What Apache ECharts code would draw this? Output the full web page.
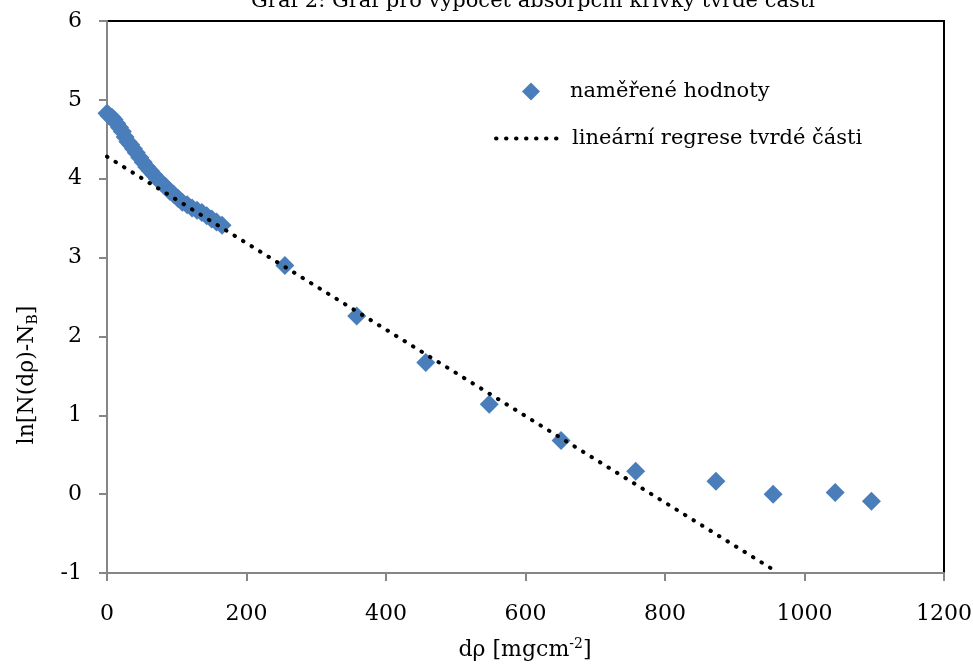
<!DOCTYPE html>
<html><head><meta charset="utf-8">
<script src="https://cdn.jsdelivr.net/npm/echarts@6/dist/echarts.min.js"></script>
<style>html,body{margin:0;padding:0;background:#fff}#c{width:973px;height:664px}</style>
</head><body><div id="c"></div>
<script>
const FONT = "DejaVu Serif";
// measured data
const measX = [0, 3, 7, 10, 14, 18, 22, 26, 30, 34, 38, 42, 47, 52, 57, 62, 67, 72, 78, 84, 90, 96, 102, 108, 115, 122, 129, 136, 143, 150, 157, 165,
  255, 358, 457, 548, 651, 758, 873, 955, 1044, 1096];
const measY = [4.83, 4.80, 4.78, 4.75, 4.70, 4.65, 4.60, 4.53, 4.47, 4.43, 4.38, 4.33, 4.27, 4.21, 4.15, 4.10, 4.05, 4.00, 3.95, 3.90, 3.84, 3.80, 3.75, 3.70, 3.67, 3.63, 3.60, 3.57, 3.53, 3.49, 3.45, 3.41,
  2.90, 2.26, 1.67, 1.14, 0.68, 0.29, 0.165, 0.0, 0.02, -0.09];
// regression of the hard part (end points)
const regX = [0, 952];
const regY = [4.28, -0.94];
// ticks
const xTicks = {min: 0, max: 1200, interval: 200};
const yTicks = {min: -1, max: 6, interval: 1};
const softCount = 32;

const measData = measX.map((x, i) => [x, measY[i]]);
const softData = measData.slice(0, softCount);
const regData = regX.map((x, i) => [x, regY[i]]);

const chart = echarts.init(document.getElementById('c'));
const dotted = {color: '#000', width: 4, type: [0.5, 9.5], cap: 'round'};
chart.setOption({
  animation: false,
  textStyle: {fontFamily: FONT},
  title: {
    text: 'Graf 2: Graf pro výpočet absorpční křivky tvrdé části',
    left: 528, top: -14, textAlign: 'center',
    textStyle: {fontFamily: FONT, fontSize: 21, fontWeight: 'normal', color: '#000'}
  },
  grid: {left: 107, right: 29, top: 21, bottom: 91, show: true, borderColor: '#000', borderWidth: 2, backgroundColor: '#fff',
    outerBoundsMode: 'none', containLabel: false},
  legend: [
    {data: ['naměřené hodnoty'], left: 517, top: 76, itemWidth: 18, itemHeight: 18, icon: 'diamond',
     textStyle: {fontFamily: FONT, fontSize: 21, color: '#000', padding: [0, 0, 0, 25]}},
    {data: ['lineární regrese tvrdé části'], left: 489, top: 123, itemWidth: 68, itemHeight: 14,
     itemStyle: {opacity: 0},
     lineStyle: {color: '#000', width: 4, type: [0.5, 9.5], cap: 'round'},
     textStyle: {fontFamily: FONT, fontSize: 21, color: '#000', padding: [0, 0, 0, 3]}}
  ],
  xAxis: {
    type: 'value', min: xTicks.min, max: xTicks.max, interval: xTicks.interval,
    splitLine: {show: false},
    axisLine: {show: true, onZero: false, lineStyle: {color: '#868686', width: 2}},
    axisTick: {show: true, length: 8, lineStyle: {color: '#868686', width: 2}},
    axisLabel: {margin: 30, fontFamily: FONT, fontSize: 22, color: '#000', formatter: v => String(v)}
  },
  yAxis: {
    type: 'value', min: yTicks.min, max: yTicks.max, interval: yTicks.interval,
    splitLine: {show: false},
    axisLine: {show: true, onZero: false, lineStyle: {color: '#868686', width: 2}},
    axisTick: {show: true, length: 8, lineStyle: {color: '#868686', width: 2}},
    axisLabel: {margin: 25, fontFamily: FONT, fontSize: 22, color: '#000', formatter: v => String(v)}
  },
  graphic: [
    {type: 'text', x: 27, y: 375, rotation: Math.PI / 2,
     style: {text: 'ln[N(dρ)-N{sub|B}]', fontFamily: FONT, fontSize: 22, fill: '#000', align: 'center', verticalAlign: 'middle',
       rich: {sub: {fontFamily: FONT, fontSize: 14, padding: [12, 0, 0, 0]}}}},
    {type: 'text', x: 525, y: 650,
     style: {text: 'dρ [mgcm{sup|-2}]', fontFamily: FONT, fontSize: 22, fill: '#000', align: 'center', verticalAlign: 'middle',
       rich: {sup: {fontFamily: FONT, fontSize: 14, padding: [0, 0, 12, 0]}}}}
  ],
  series: [
    {name: 'soft', type: 'line', data: softData, symbol: 'none', lineStyle: dotted, z: 1, silent: true},
    {name: 'lineární regrese tvrdé části', type: 'line', data: regData, symbol: 'none', showSymbol: false,
     lineStyle: dotted, itemStyle: {color: '#000'}, z: 3},
    {name: 'naměřené hodnoty', type: 'scatter', data: measData, symbol: 'diamond', symbolSize: 19,
     itemStyle: {color: '#4a7ebb', opacity: 1}, z: 2}
  ]
});
</script></body></html>
